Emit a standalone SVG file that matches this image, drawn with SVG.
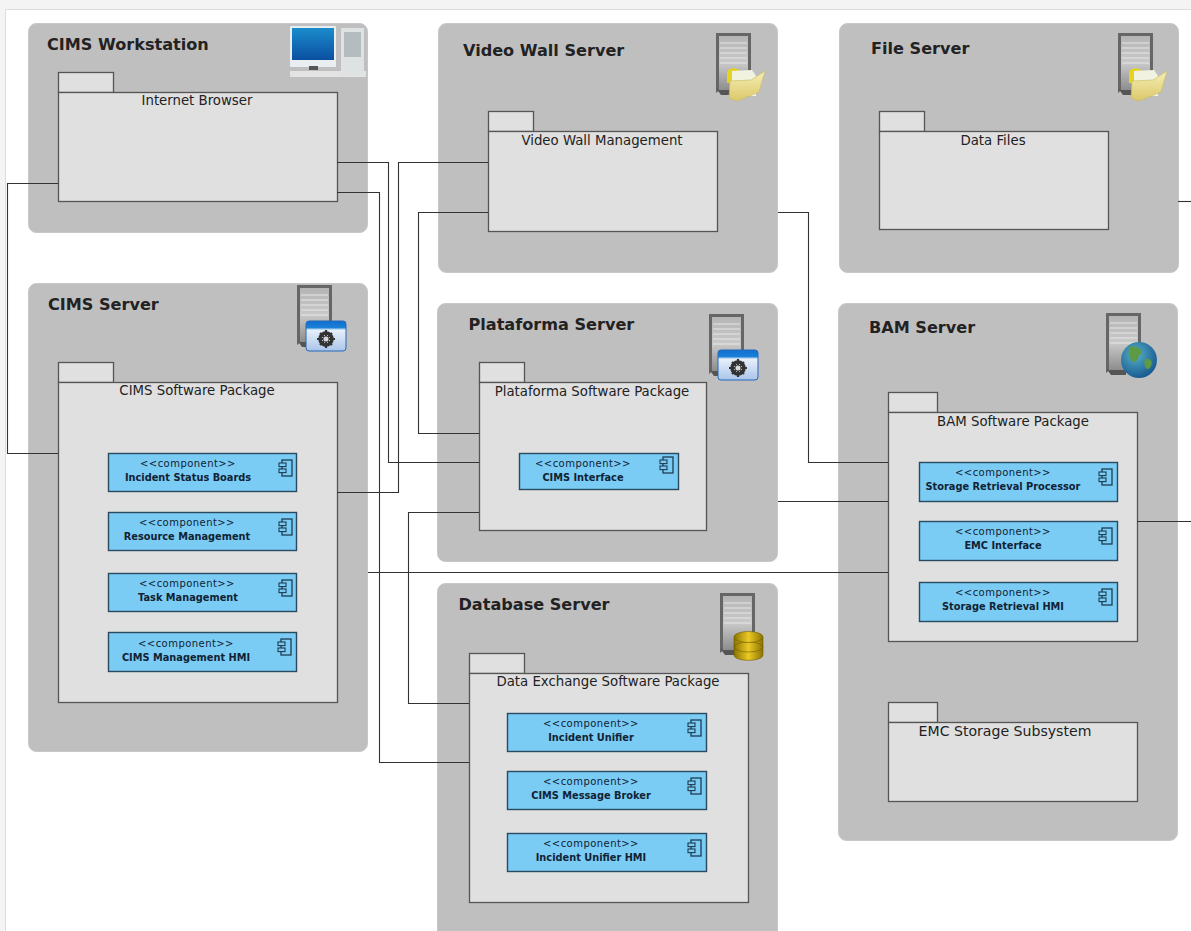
<svg xmlns="http://www.w3.org/2000/svg" xmlns:xlink="http://www.w3.org/1999/xlink" width="1191" height="931" viewBox="0 0 1191 931">
<style>
text{font-family:"DejaVu Sans","Liberation Sans",sans-serif;fill:#222}
.box{fill:#c0bfc0;stroke:#c9c5cc;stroke-width:1}
.pkg{fill:#e0e0e0;stroke:#555;stroke-width:1.3}
.cmp{fill:#7accf5;stroke:#2b4a60;stroke-width:1.4}
.t{font-size:16.1px;font-weight:bold}
.p{font-size:13.3px;text-anchor:middle}
.s{font-size:10px;text-anchor:middle;fill:#123;letter-spacing:.45px}
.n{font-size:9.8px;font-weight:bold;text-anchor:middle;fill:#123}
#connectors path{fill:none;stroke:#333;stroke-width:1.1}
</style>
<defs>
<linearGradient id="sv" x1="0" y1="0" x2="0" y2="1"><stop offset="0" stop-color="#b5b5b5"/><stop offset=".5" stop-color="#c9c9c9"/><stop offset="1" stop-color="#8d8d8d"/></linearGradient>
<linearGradient id="bl" x1="0" y1="0" x2="0" y2="1"><stop offset="0" stop-color="#0f6fd0"/><stop offset=".22" stop-color="#1a80d8"/><stop offset=".3" stop-color="#e8f0fa"/><stop offset="1" stop-color="#a9c4ea"/></linearGradient>
<linearGradient id="sc" x1="0" y1="0" x2="0" y2="1"><stop offset="0" stop-color="#1b8ccc"/><stop offset="1" stop-color="#0b4fa0"/></linearGradient>
<radialGradient id="gl" cx=".4" cy=".35" r=".7"><stop offset="0" stop-color="#58b0c8"/><stop offset="1" stop-color="#14568e"/></radialGradient>
<linearGradient id="fo" x1="0" y1="0" x2="0" y2="1"><stop offset="0" stop-color="#f5efb5"/><stop offset="1" stop-color="#dcc86a"/></linearGradient>
<linearGradient id="db" x1="0" y1="0" x2="1" y2="0"><stop offset="0" stop-color="#8a7400"/><stop offset=".5" stop-color="#ecc925"/><stop offset="1" stop-color="#8a7400"/></linearGradient>
<g id="server">
<path d="M0 0H35V50L30 56H5L0 60Z" fill="#666"/>
<rect x="3" y="3" width="29" height="54" fill="url(#sv)"/>
<path d="M4 10H31M4 15H31M4 20H31M4 25H31M4 30H31" stroke="#e6e6e6" stroke-width="1"/>
<path d="M0 55L5 62H20V57H3Z" fill="#555"/>
</g>
<g id="folder">
<path d="M3 4C5 -1 14 -1 16 4L15 15H3Z" fill="#e6d320"/>
<path d="M8 3L28 2L32 8V28H8Z" fill="#f2f2e0"/>
<path d="M6 13L27 12L41 3L35 24L13 33L5 30Z" fill="url(#fo)" stroke="#c9b85c" stroke-width=".6"/>
</g>
<g id="gear">
<rect x="0" y="0" width="40" height="30" rx="3" fill="url(#bl)" stroke="#2468b8" stroke-width="1"/>
<circle cx="20" cy="18" r="6" fill="none" stroke="#333" stroke-width="3.5"/>
<path d="M20 9V27M11 18H29M14 12L26 24M26 12L14 24" stroke="#333" stroke-width="2.2"/>
<circle cx="20" cy="18" r="2.5" fill="#d9d9d9"/>
</g>
<g id="cicon">
<rect x="3" y="0" width="10" height="16" fill="none" stroke="#1f3d50" stroke-width="1.3"/>
<rect x="0" y="3" width="7" height="3.6" fill="#7accf5" stroke="#1f3d50" stroke-width="1.1"/>
<rect x="0" y="9" width="7" height="3.6" fill="#7accf5" stroke="#1f3d50" stroke-width="1.1"/>
</g>
</defs>
<rect width="1191" height="931" fill="#fff"/>
<path d="M0 0H1191V9H5.500V931H0Z" fill="#f4f4f4"/>
<path d="M5.500 931V9.500H1191" fill="none" stroke="#ddd"/>

<g id="cims-workstation">
<rect class="box" x="28.500" y="23.500" width="339" height="209" rx="8"/>
<text class="t" x="47" y="50">CIMS Workstation</text>
<rect x="290" y="71" width="76" height="6" fill="#e3e3e3"/>
<rect x="290" y="26" width="46" height="41" rx="1" fill="#e9eef0"/>
<rect x="292" y="28" width="42" height="32" fill="url(#sc)"/>
<rect x="309" y="66" width="9" height="4" fill="#555"/>
<rect x="341" y="28" width="23" height="47" rx="1" fill="#dfe2e3"/>
<rect x="344" y="32" width="17" height="25" fill="#b4bcc0"/>
<rect x="58.500" y="72.500" width="55" height="20" class="pkg"/>
<rect x="58.500" y="92.500" width="279" height="109" class="pkg"/>
<text class="p" x="197" y="105">Internet Browser</text>
</g>

<g id="cims-server">
<rect class="box" x="28.500" y="283.500" width="339" height="468" rx="8"/>
<text class="t" x="48" y="310">CIMS Server</text>
<use href="#server" x="297" y="285"/>
<use href="#gear" x="306" y="321"/>
<rect x="58.500" y="362.500" width="55" height="20" class="pkg"/>
<rect x="58.500" y="382.500" width="279" height="320" class="pkg"/>
<text class="p" x="197" y="395">CIMS Software Package</text>
<g id="c-incident-status-boards"><rect class="cmp" x="108.500" y="453.500" width="188" height="38"/><text class="s" x="188" y="467">&lt;&lt;component&gt;&gt;</text><text class="n" x="188" y="481">Incident Status Boards</text><use href="#cicon" x="279" y="460"/></g>
<g id="c-resource-management"><rect class="cmp" x="108.500" y="512.500" width="188" height="38"/><text class="s" x="187" y="526">&lt;&lt;component&gt;&gt;</text><text class="n" x="187" y="540">Resource Management</text><use href="#cicon" x="279" y="519"/></g>
<g id="c-task-management"><rect class="cmp" x="108.500" y="573.500" width="188" height="38"/><text class="s" x="187" y="587">&lt;&lt;component&gt;&gt;</text><text class="n" x="188" y="601">Task Management</text><use href="#cicon" x="279" y="580"/></g>
<g id="c-cims-management-hmi"><rect class="cmp" x="108.500" y="632.500" width="188" height="39"/><text class="s" x="186" y="647">&lt;&lt;component&gt;&gt;</text><text class="n" x="186" y="661">CIMS Management HMI</text><use href="#cicon" x="278" y="639"/></g>
</g>

<g id="video-wall-server">
<rect class="box" x="438.500" y="23.500" width="339" height="249" rx="8"/>
<text class="t" x="463" y="56">Video Wall Server</text>
<use href="#server" x="716" y="33"/>
<use href="#folder" x="724" y="68"/>
<rect x="488.500" y="111.500" width="45" height="20" class="pkg"/>
<rect x="488.500" y="131.500" width="229" height="100" class="pkg"/>
<text class="p" x="602" y="145">Video Wall Management</text>
</g>

<g id="plataforma-server">
<rect class="box" x="437.500" y="303.500" width="340" height="258" rx="8"/>
<text class="t" x="468.500" y="330">Plataforma Server</text>
<use href="#server" x="709" y="314"/>
<use href="#gear" x="718" y="350"/>
<rect x="479.500" y="362.500" width="45" height="20" class="pkg"/>
<rect x="479.500" y="382.500" width="227" height="148" class="pkg"/>
<text class="p" x="592" y="396">Plataforma Software Package</text>
<g id="c-cims-interface"><rect class="cmp" x="519.500" y="453.500" width="159" height="36"/><text class="s" x="583" y="467">&lt;&lt;component&gt;&gt;</text><text class="n" x="583" y="481">CIMS Interface</text><use href="#cicon" x="660" y="457"/></g>
</g>

<g id="database-server">
<rect class="box" x="437.500" y="583.500" width="340" height="360" rx="8"/>
<text class="t" x="458.500" y="610">Database Server</text>
<use href="#server" x="720" y="593"/>
<g fill="url(#db)" stroke="#6e5c00" stroke-width=".6">
<path d="M734 637V655C734 662 763 662 763 655V637Z"/>
<ellipse cx="748.500" cy="647" rx="14.500" ry="5"/>
<ellipse cx="748.500" cy="637" rx="14.500" ry="5.500"/>
</g>
<rect x="469.500" y="653.500" width="55" height="20" class="pkg"/>
<rect x="469.500" y="673.500" width="279" height="229" class="pkg"/>
<text class="p" x="608" y="686">Data Exchange Software Package</text>
<g id="c-incident-unifier"><rect class="cmp" x="507.500" y="713.500" width="199" height="38"/><text class="s" x="591" y="727">&lt;&lt;component&gt;&gt;</text><text class="n" x="591" y="741">Incident Unifier</text><use href="#cicon" x="688" y="720"/></g>
<g id="c-cims-message-broker"><rect class="cmp" x="507.500" y="771.500" width="199" height="38"/><text class="s" x="591" y="785">&lt;&lt;component&gt;&gt;</text><text class="n" x="591" y="799">CIMS Message Broker</text><use href="#cicon" x="688" y="778"/></g>
<g id="c-incident-unifier-hmi"><rect class="cmp" x="507.500" y="833.500" width="199" height="38"/><text class="s" x="591" y="847">&lt;&lt;component&gt;&gt;</text><text class="n" x="591" y="861">Incident Unifier HMI</text><use href="#cicon" x="688" y="840"/></g>
</g>

<g id="file-server">
<rect class="box" x="839.500" y="23.500" width="339" height="249" rx="8"/>
<text class="t" x="871" y="54">File Server</text>
<use href="#server" x="1118" y="33"/>
<use href="#folder" x="1126" y="68"/>
<rect x="879.500" y="111.500" width="45" height="20" class="pkg"/>
<rect x="879.500" y="131.500" width="229" height="98" class="pkg"/>
<text class="p" x="993" y="145">Data Files</text>
</g>

<g id="bam-server">
<rect class="box" x="838.500" y="303.500" width="339" height="537" rx="8"/>
<text class="t" x="869" y="333">BAM Server</text>
<use href="#server" x="1106" y="313"/>
<circle cx="1139" cy="360" r="18" fill="url(#gl)"/>
<path d="M1130 347C1137 345 1143 350 1141 354C1137 356 1139 362 1133 362C1129 358 1127 352 1130 347ZM1145 359C1151 358 1154 362 1150 368C1146 372 1143 364 1145 359Z" fill="#5d9a45"/>
<rect x="888.500" y="392.500" width="49" height="20" class="pkg"/>
<rect x="888.500" y="412.500" width="249" height="229" class="pkg"/>
<text class="p" x="1013" y="426">BAM Software Package</text>
<g id="c-storage-retrieval-processor"><rect class="cmp" x="919.500" y="462.500" width="198" height="39"/><text class="s" x="1003" y="476">&lt;&lt;component&gt;&gt;</text><text class="n" x="1003" y="490">Storage Retrieval Processor</text><use href="#cicon" x="1099" y="469"/></g>
<g id="c-emc-interface"><rect class="cmp" x="919.500" y="521.500" width="198" height="39"/><text class="s" x="1003" y="535">&lt;&lt;component&gt;&gt;</text><text class="n" x="1003" y="549">EMC Interface</text><use href="#cicon" x="1099" y="528"/></g>
<g id="c-storage-retrieval-hmi"><rect class="cmp" x="919.500" y="582.500" width="198" height="39"/><text class="s" x="1003" y="596">&lt;&lt;component&gt;&gt;</text><text class="n" x="1003" y="610">Storage Retrieval HMI</text><use href="#cicon" x="1099" y="589"/></g>
<rect x="888.500" y="702.500" width="49" height="20" class="pkg"/>
<rect x="888.500" y="722.500" width="249" height="79" class="pkg"/>
<text class="p" x="1005" y="736" style="font-size:14.100px">EMC Storage Subsystem</text>
</g>

<g id="connectors">
<path d="M58 183.500H7.500V453.500H58"/>
<path d="M337 162.500H388.500V462.500H479"/>
<path d="M337 192.500H379.500V762.500H469"/>
<path d="M337 492.500H398.500V162.500H488"/>
<path d="M488 212.500H418.500V433.500H479"/>
<path d="M778 212.500H808.500V462.500H888"/>
<path d="M778 501.500H888"/>
<path d="M368 572.500H888"/>
<path d="M479 512.500H408.500V703.500H469"/>
<path d="M1178 201.500H1191"/>
<path d="M1137 521.500H1191"/>
</g>
</svg>
